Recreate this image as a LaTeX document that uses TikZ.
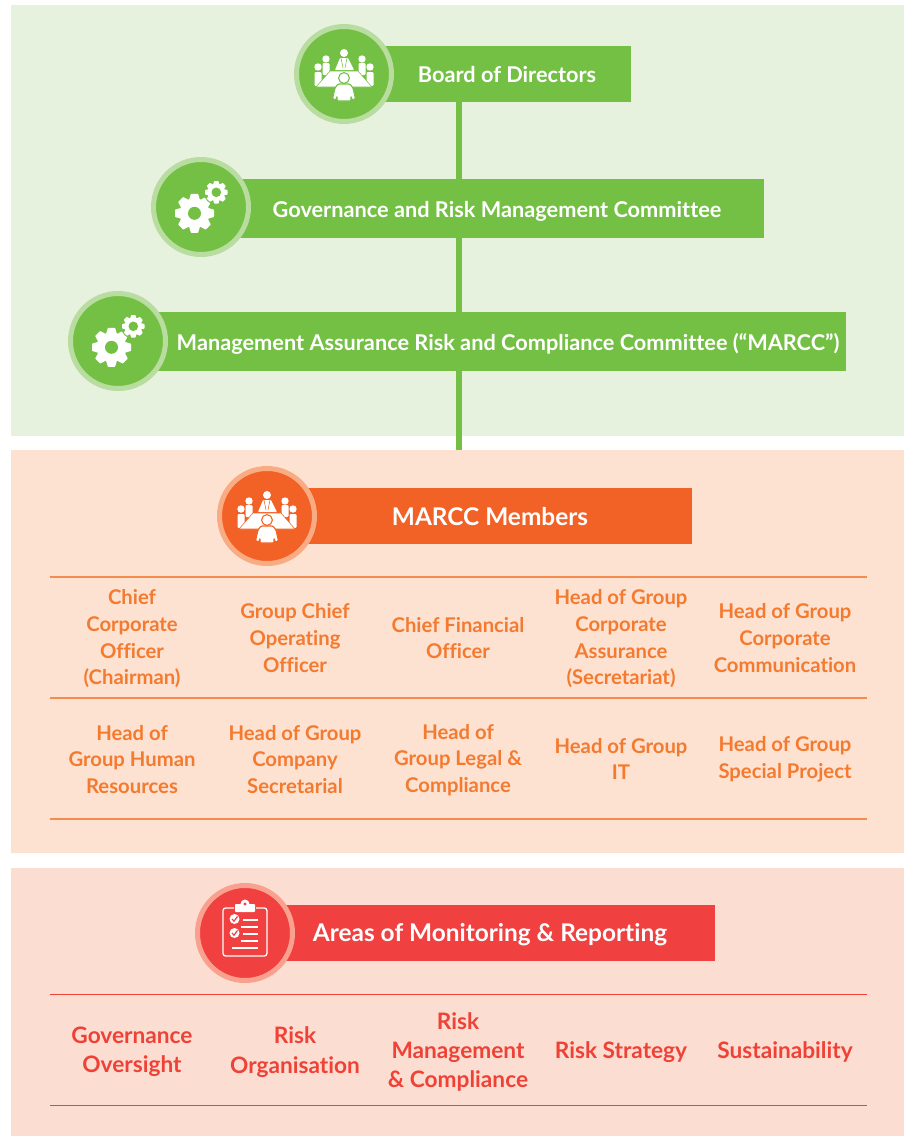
\documentclass[tikz,border=0pt]{standalone}
\usepackage{fontspec}
\setmainfont{Lato}[Ligatures=CommonOff]
\usetikzlibrary{calc}
\definecolor{gmain}{HTML}{74C044}
\definecolor{gring}{HTML}{B9DDA0}
\definecolor{gpanel}{HTML}{E6F1DE}
\definecolor{omain}{HTML}{F26125}
\definecolor{oring}{HTML}{F9AC84}
\definecolor{opanel}{HTML}{FDE2D1}
\definecolor{otext}{HTML}{F47A30}
\definecolor{orule}{HTML}{F68B4F}
\definecolor{rmain}{HTML}{F04040}
\definecolor{rring}{HTML}{F9A08E}
\definecolor{rpanel}{HTML}{FCDDD2}
\definecolor{rtext}{HTML}{EF4136}
\newcommand{\cogwheel}[6]{% x y router rinner rhole bgcolour
  \begin{scope}[shift={(#1,#2)}]
    \fill[white] (0,0) circle (#4);
    \foreach \ang in {0,45,...,315}{
      \fill[white,rotate=\ang,rounded corners=0.4pt]
        (-.36*#4,-.9*#4) -- (-.24*#4,-#3) -- (.24*#4,-#3) -- (.36*#4,-.9*#4) -- cycle;
    }
    \fill[#6] (0,0) circle (#5);
  \end{scope}}
\tikzset{
  x=0.75pt,y=-0.75pt,
  panel/.style={anchor=north west,inner sep=0,outer sep=0,minimum width=893*0.75pt},
  bar/.style={anchor=north west,inner sep=0,outer sep=0},
  ringnode/.style={circle,inner sep=0,outer sep=0,minimum size=95*0.75pt,line width=3.75pt},
  title/.style={text=white,font=\fontsize{16.3}{19}\selectfont\bfseries,inner sep=0},
  bigtitle/.style={title,font=\fontsize{18.3}{22}\selectfont\bfseries},
  member/.style={text=otext,align=center,font=\fontsize{15.2}{20}\selectfont\bfseries,inner sep=0},
  area/.style={text=rtext,align=center,font=\fontsize{17}{22}\selectfont\bfseries,inner sep=0},
  rulea/.style={orule,line width=0.9pt},
  ruleb/.style={rtext,line width=0.75pt},
  pics/meeting/.style={code={
    \fill[white] (0,-21) circle (4);
    \fill[white,rounded corners=.5pt] (-9,-4) -- (-4,-16) -- (4,-16) -- (10,-4) -- cycle;
    \draw[#1,line width=.4pt] (-3,-16) -- (-1,-6) (3,-16) -- (1,-6);
    \foreach \s in {-1,1}{
      \fill[white] (\s*18,-15) circle (3.7);
      \fill[white,rounded corners=.8pt] (\s*18-3.5,-11) rectangle (\s*18+3.5,1);
      \fill[white] (\s*26,-7) circle (3.7);
      \fill[white,rounded corners=.8pt] (\s*26-3.5,-2) rectangle (\s*26+3.5,12);
    }
    \fill[white,draw=#1,line width=.4pt] (-14,-3) -- (14,-3) -- (28,13) -- (-28,13) -- cycle;
    \fill[white,draw=#1,line width=.8pt,rounded corners=.8pt]
      (-6,10) -- (6,10) -- (9,14) -- (11.5,25) -- (8,26) -- (7,22) -- (7,27) -- (-7,27) -- (-7,22) -- (-8,26) -- (-11.5,25) -- (-9,14) -- cycle;
    \fill[white,draw=#1,line width=.8pt] (0,4) circle (5.4);
  }},
  pics/gears/.style={code={
    \cogwheel{-6.5}{6.3}{19.5}{15}{6.5}{#1}
    \fill[#1] (15.3,-14.7) circle (12.5);
    \cogwheel{15.3}{-14.7}{11.3}{8.8}{4.8}{#1}
  }},
  pics/clipboard/.style={code={
    \draw[white,line width=1pt,rounded corners=2pt] (-11,-25) -- (-22,-25) -- (-22,23) -- (22,23) -- (22,-25) -- (11,-25);
    \fill[white,rounded corners=.6pt] (-10,-21) rectangle (10,-29);
    \fill[white] (0,-29) circle (4.5);
    \fill[#1] (0,-29) circle (1.7);
    \foreach \yy in {-14,0}{
      \fill[white] (-10.5,\yy) circle (5);
      \draw[#1,line width=.9pt] (-13,\yy) -- (-11,\yy+2.2) -- (-7.5,\yy-2.6);
    }
    \draw[white,line width=.85pt] (-2,-13) -- (13,-13) (-4,-6) -- (13,-6) (-2,1) -- (13,1) (-4,8) -- (13,8) (-13,15) -- (13,15);
  }}
}
\begin{document}
\begin{tikzpicture}
\useasboundingbox (0,0) rectangle (904,1136);
% panels
\node[panel,fill=gpanel,minimum height=431*0.75pt] (pg) at (11,5) {};
\node[panel,fill=opanel,minimum height=403*0.75pt] (po) at (11,450) {};
\node[panel,fill=rpanel,minimum height=268*0.75pt] (pr) at (11,868) {};
% bars
\node[bar,fill=gmain,minimum width=287*0.75pt,minimum height=56*0.75pt] (b1) at (344,46) {};
\node[bar,fill=gmain,minimum width=563*0.75pt,minimum height=59*0.75pt] (b2) at (201,179) {};
\node[bar,fill=gmain,minimum width=728*0.75pt,minimum height=59*0.75pt] (b3) at (118,312) {};
\node[bar,fill=omain,minimum width=425*0.75pt,minimum height=56*0.75pt] (b4) at (267,488) {};
\node[bar,fill=rmain,minimum width=470*0.75pt,minimum height=56*0.75pt] (b5) at (245,905) {};
% trunk
\coordinate (tx) at (458.5,0);
\draw[gmain,line width=4.5pt] (tx |- b1.south) -- (tx |- b2.north);
\draw[gmain,line width=4.5pt] (tx |- b2.south) -- (tx |- b3.north);
\draw[gmain,line width=4.5pt] (tx |- b3.south) -- (tx |- po.north);
% circles
\node[ringnode,fill=gmain,draw=gring] (c1) at (344,74) {};
\node[ringnode,fill=gmain,draw=gring] (c2) at (201,207) {};
\node[ringnode,fill=gmain,draw=gring] (c3) at (118,341) {};
\node[ringnode,fill=omain,draw=oring] (c4) at (267,516) {};
\node[ringnode,fill=rmain,draw=rring] (c5) at (245,933) {};
\pic at (c1) {meeting=gmain};
\pic at (c2) {gears=gmain};
\pic at (c3) {gears=gmain};
\pic at (c4) {meeting=omain};
\pic at (c5) {clipboard=rmain};
% titles
\node[title] (t1) at (507,74.5) {Board of Directors};
\node[title] (t2) at (497,211) {Governance and Risk Management Committee};
\node[title] (t3) at (508,343.5) {Management Assurance Risk and Compliance Committee (“MARCC”)};
\node[bigtitle] (t4) at (490,517) {MARCC Members};
\node[bigtitle] (t5) at (490,935) {Areas of Monitoring \& Reporting};
% rules
\foreach \yy/\nm in {577/ra,698/rb,819/rc}{
  \coordinate (\nm l) at (50,\yy); \coordinate (\nm r) at (867,\yy);
  \draw[rulea] (\nm l) -- (\nm r);
}
\foreach \yy/\nm in {994/rd,1105/re}{
  \coordinate (\nm l) at (50,\yy); \coordinate (\nm r) at (867,\yy);
  \draw[ruleb] (\nm l) -- (\nm r);
}
% members
\node[member] (m1) at (132,639) {Chief\\Corporate\\Officer\\(Chairman)};
\node[member] (m2) at (295,638) {Group Chief\\Operating\\Officer};
\node[member] (m3) at (458,638) {Chief Financial\\Officer};
\node[member] (m4) at (621,639) {Head of Group\\Corporate\\Assurance\\(Secretariat)};
\node[member] (m5) at (785,638) {Head of Group\\Corporate\\Communication};
\node[member] (m6) at (132,759.5) {Head of\\Group Human\\Resources};
\node[member] (m7) at (295,759.5) {Head of Group\\Company\\Secretarial};
\node[member] (m8) at (458,760) {Head of\\Group Legal \&\\Compliance};
\node[member] (m9) at (621,759) {Head of Group\\IT};
\node[member] (m10) at (785,759.5) {Head of Group\\Special Project};
% areas
\node[area] (a1) at (132,1052) {Governance\\Oversight};
\node[area] (a2) at (295,1052) {Risk\\Organisation};
\node[area] (a3) at (458,1052) {Risk\\Management\\\& Compliance};
\node[area] (a4) at (621,1052) {Risk Strategy};
\node[area] (a5) at (785,1052) {Sustainability};
\end{tikzpicture}
\end{document}
